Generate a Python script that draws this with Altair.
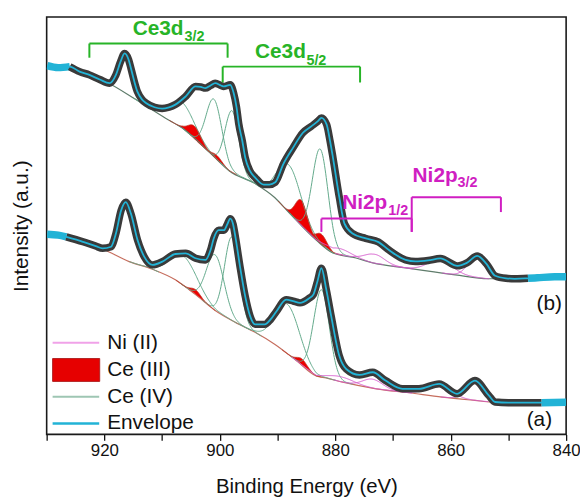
import numpy as np
import pandas as pd
import altair as alt

# ---------------- values ----------------
# Binding energy (eV) and intensity (a.u.; 0 = bottom of frame, 421 = top of frame)

# spectrum (b): measured curve / envelope
env_b_E = [929.9, 928.0, 926.0, 924.3, 922.6, 920.8, 919.1, 918.0, 917.2, 916.5, 915.8, 915.4,
           914.3, 913.5, 912.8, 911.3, 910.0, 908.8, 907.7, 905.9, 904.2, 903.3, 902.5, 901.6,
           900.8, 899.8, 899.3, 898.2, 897.6, 897.1, 896.7, 896.1, 895.6, 894.8, 893.9, 892.4,
           891.4, 890.4, 889.0, 887.3, 885.6, 884.1, 883.0, 882.4, 881.5, 880.9, 880.4, 879.3,
           878.4, 877.0, 874.7, 872.5, 870.7, 867.8, 866.1, 863.9, 861.8, 858.8, 857.2, 855.4,
           853.8, 852.3, 850.4, 848.9, 846.6, 845.0, 842.0, 840.0]
env_b_I = [372, 370, 371, 366, 362.7, 358, 354.3, 362.7, 376, 384.3, 378, 369.3,
           346, 338, 334.3, 330, 328.7, 330, 332.7, 341, 351, 350.5, 349.3, 352,
           354.3, 352, 351, 352.7, 344.3, 330, 312.7, 296, 279.3, 266, 259.3, 252,
           252, 254.3, 272.7, 289.3, 304.3, 311, 316, 319.3, 312.7, 296, 279.3, 239.3,
           212.7, 202.7, 197.7, 194, 186, 176, 174.5, 175.5, 177.5, 170, 173, 180,
           172, 160, 157.5, 157, 157.5, 158, 159, 159]

# spectrum (a): measured curve / envelope
env_a_E = [929.9, 928.0, 926.6, 923.7, 921.5, 920.3, 918.85, 918.0, 917.1, 916.3, 915.4, 914.25,
           913.1, 911.65, 909.95, 907.7, 905.9, 904.2, 902.5, 901.6, 901.05, 900.2, 899.3, 898.7,
           898.2, 897.7, 897.3, 896.5, 895.6, 894.75, 893.9, 892.2, 891.2, 890.2, 888.5, 887.3,
           886.1, 884.6, 883.8, 883.1, 882.4, 881.55, 880.7, 879.3, 878.1, 875.8, 873.5, 871.3,
           868.35, 865.5, 862.0, 858.9, 855.8, 853.4, 852.3, 850.0, 844.25, 840.0]
env_a_I = [202, 201, 199.3, 194.3, 190, 187.7, 189.3, 202.7, 226, 234.3, 222.7, 196,
           179.3, 171, 174.3, 182, 182.7, 177.7, 176, 186, 197.7, 206, 206, 212,
           217.7, 212, 199.3, 169.3, 139.3, 119.3, 111, 111, 116, 124, 136, 134.5,
           132.7, 137, 141, 154, 167.7, 146, 119.3, 79.3, 66, 60, 62.7, 54.3,
           46, 46, 51, 41, 54.3, 39.3, 32.7, 32, 32, 32.5]

# backgrounds
bg_b_E = [922.6, 919.5, 914.6, 909.4, 906.5, 900.8, 898.4, 893.9, 890.5, 887.9, 883.3, 880.4,
          876.4, 873.5, 867.8, 859.2, 853.5, 846.0]
bg_b_I = [362.7, 355, 338, 319, 309, 279, 266, 253, 239, 223, 196, 183,
          178, 173, 168, 161, 157, 157.5]
bg_a_E = [923.7, 920.3, 915.7, 911.7, 907.7, 904.2, 900.8, 897.3, 893.9, 890.5, 886.7, 883.3,
          881.6, 878.7, 872.9, 867.2, 861.5, 855.8, 852.9, 846.0]
bg_a_I = [194.3, 187, 174.3, 166.7, 156, 141, 125, 113, 103, 91, 74.3, 59,
          57, 52.7, 46, 42, 37.7, 34.3, 32.7, 32.3]

# fitted components: centre (eV), height above background (a.u.), FWHM (eV)
ce4_b_center = [916.6, 906.5, 901.0, 897.9, 888.0, 882.6]
ce4_b_height = [40, 26, 58, 62, 48, 95]
ce4_b_fwhm = [2.7, 5.0, 3.2, 2.8, 4.8, 3.2]
ce3_b_center = [904.4, 900.5, 885.9, 882.4]
ce3_b_height = [13, 4, 25, 10]
ce3_b_fwhm = [2.6, 2.0, 2.4, 2.2]
ni_b_center = [879.3, 873.2, 861.8, 855.5]
ni_b_height = [6, 9, 13, 21]
ni_b_fwhm = [4.5, 4.0, 5.0, 3.5]

ce4_a_center = [916.2, 906.3, 900.8, 897.9, 888.3, 882.4]
ce4_a_height = [58, 30, 56, 84, 50, 88]
ce4_a_fwhm = [3.3, 5.5, 3.6, 3.0, 5.0, 3.2]
ce3_a_center = [904.2, 885.8]
ce3_a_height = [5, 6]
ce3_a_fwhm = [2.0, 2.0]
ni_a_center = [879.0, 873.5, 862.0, 855.8]
ni_a_height = [5, 9, 11, 20]
ni_a_fwhm = [5.0, 4.0, 5.0, 3.5]

# raw-data segments drawn in cyan at both ends (outside the fitted window)
cyan_hi = {"b": 926.0, "a": 926.6}
cyan_lo = {"b": 846.6, "a": 844.25}

# bracket annotations
br_names = ["Ce3d3/2", "Ce3d5/2", "Ni2p1/2", "Ni2p3/2"]
br_E1 = [922.6, 899.5, 882.4, 866.75]
br_E2 = [898.65, 875.7, 866.75, 851.3]
br_I = [394.3, 371, 217.7, 239.3]
br_Itick_l = [380, 355, 204.3, 204.3]
br_Itick_r = [380, 355, 204.3, 224.3]
br_col = ["#27b427", "#27b427", "#d01ec2", "#d01ec2"]

lab_main = ["Ce3d", "Ce3d", "Ni2p", "Ni2p"]
lab_sub = ["3/2", "5/2", "1/2", "3/2"]
lab_E = [915.1, 893.9, 878.8, 866.6]
lab_I = [402.7, 379.3, 227.7, 254.3]
sub_E = [906.1, 885.0, 870.8, 858.8]
sub_I = [396.7, 372.7, 221.0, 249.3]

legend_names = ["Ni (II)", "Ce (III)", "Ce (IV)", "Envelope"]

# ---------------- tables ----------------
FONT = "Liberation Sans, Arial, Helvetica, sans-serif"
C_GRAY = "#3a3a3a"
C_CYAN = "#22b3d6"
C_GREEN = "#62a98b"
C_RED = "#ee0000"
C_NI = "#d65ccc"
BG_COL = {"b": "#5f7c6b", "a": "#c66e5e"}


def comp_rows(spec, kind, centers, heights, fwhms, bgE, bgI):
    xp = np.array(bgE[::-1], dtype=float)
    fp = np.array(bgI[::-1], dtype=float)
    rows = []
    for k, (c, h, w) in enumerate(zip(centers, heights, fwhms)):
        E = np.round(np.arange(c - 1.7 * w, c + 1.7 * w + 1e-9, 0.1), 3)
        base = np.interp(E, xp, fp)
        top = base + h * np.exp(-4 * np.log(2) * ((E - c) / w) ** 2)
        for e, b, t in zip(E, base, top):
            rows.append({"E": float(e), "base": float(b), "top": float(t), "key": f"{spec}-{kind}-{k}"})
    return rows


ce4 = pd.DataFrame(comp_rows("b", "ce4", ce4_b_center, ce4_b_height, ce4_b_fwhm, bg_b_E, bg_b_I)
                   + comp_rows("a", "ce4", ce4_a_center, ce4_a_height, ce4_a_fwhm, bg_a_E, bg_a_I))
ce3 = pd.DataFrame(comp_rows("b", "ce3", ce3_b_center, ce3_b_height, ce3_b_fwhm, bg_b_E, bg_b_I)
                   + comp_rows("a", "ce3", ce3_a_center, ce3_a_height, ce3_a_fwhm, bg_a_E, bg_a_I))
ni = pd.DataFrame(comp_rows("b", "ni", ni_b_center, ni_b_height, ni_b_fwhm, bg_b_E, bg_b_I)
                  + comp_rows("a", "ni", ni_a_center, ni_a_height, ni_a_fwhm, bg_a_E, bg_a_I))

bg = pd.concat([pd.DataFrame({"E": bg_b_E, "I": bg_b_I, "spec": "b", "col": BG_COL["b"]}),
                pd.DataFrame({"E": bg_a_E, "I": bg_a_I, "spec": "a", "col": BG_COL["a"]})])

env = pd.concat([pd.DataFrame({"E": env_b_E, "I": env_b_I, "spec": "b"}),
                 pd.DataFrame({"E": env_a_E, "I": env_a_I, "spec": "a"})])

raw_rows = []
for spec, Es, Is in [("b", env_b_E, env_b_I), ("a", env_a_E, env_a_I)]:
    for e, i in zip(Es, Is):
        if e >= cyan_hi[spec]:
            raw_rows.append({"E": e, "I": i, "seg": f"{spec}-L", "col": C_CYAN})
        if e <= cyan_lo[spec]:
            raw_rows.append({"E": e, "I": i, "seg": f"{spec}-R", "col": C_CYAN})
        if cyan_lo[spec] <= e <= cyan_hi[spec]:
            raw_rows.append({"E": e, "I": i, "seg": f"{spec}-M", "col": C_GRAY})
raw = pd.DataFrame(raw_rows)

br_h = pd.DataFrame({"E": br_E1, "E2": br_E2, "I": br_I, "col": br_col, "name": br_names})
br_v = pd.DataFrame({"E": br_E1 + br_E2, "I": br_I + br_I,
                     "I2": br_Itick_l + br_Itick_r, "col": br_col + br_col})
labs = pd.DataFrame({"E": lab_E, "I": lab_I, "t": lab_main, "col": br_col})
subs = pd.DataFrame({"E": sub_E, "I": sub_I, "t": lab_sub, "col": br_col})

# ---------------- chart ----------------
xs = alt.Scale(domain=[840, 930], reverse=True, nice=False, zero=False)
ys = alt.Scale(domain=[0, 421], nice=False, zero=False)

x_axis = alt.Axis(values=[930, 920, 910, 900, 890, 880, 870, 860, 850, 840],
                  labelExpr="datum.value % 20 === 0 ? datum.label : ''",
                  title="Binding Energy (eV)", grid=False, domain=False,
                  tickSize=6, tickWidth=1.3, tickColor="#111", labelFontSize=17,
                  labelColor="#111", labelFont=FONT, labelPadding=2, labelFlush=False,
                  labelOverlap=False, titleFont=FONT, titleFontSize=20.5,
                  titleFontWeight="normal", titleColor="#111", titlePadding=19)
y_axis = alt.Axis(title="Intensity (a.u.)", labels=False, ticks=False, grid=False, domain=False,
                  titleFont=FONT, titleFontSize=21, titleFontWeight="normal",
                  titleColor="#111", titlePadding=15.5)


def X(field="E"):
    return alt.X(f"{field}:Q", scale=xs, axis=x_axis)


def Y(field="I"):
    return alt.Y(f"{field}:Q", scale=ys, axis=y_axis, stack=None)


red = alt.Chart(ce3).mark_area(color=C_RED, opacity=1).encode(
    x=X(), y=Y("top"), y2="base:Q", detail="key:N")

bgline = alt.Chart(bg).mark_line(strokeWidth=1.2, interpolate="monotone").encode(
    x=X(), y=Y(), color=alt.Color("col:N", scale=None), detail="spec:N")

green = alt.Chart(ce4).mark_line(strokeWidth=1, color=C_GREEN).encode(
    x=X(), y=Y("top"), detail="key:N")
redline = alt.Chart(ce3).mark_line(strokeWidth=0.8, color="#b83a2a").encode(
    x=X(), y=Y("top"), detail="key:N")
niline = alt.Chart(ni).mark_line(strokeWidth=1, color=C_NI).encode(
    x=X(), y=Y("top"), detail="key:N")

rawband = alt.Chart(raw).mark_line(strokeWidth=7.5, interpolate="monotone", clip=True,
                                   strokeJoin="round").encode(
    x=X(), y=Y(), color=alt.Color("col:N", scale=None), detail="seg:N")

envline = alt.Chart(env).mark_line(strokeWidth=1.8, color=C_CYAN, interpolate="monotone",
                                   clip=True).encode(
    x=X(), y=Y(), detail="spec:N")

br1 = alt.Chart(br_h).mark_rule(strokeWidth=2).encode(
    x=X(), x2="E2:Q", y=Y(), color=alt.Color("col:N", scale=None))
br2 = alt.Chart(br_v).mark_rule(strokeWidth=2).encode(
    x=X(), y=Y(), y2="I2:Q", color=alt.Color("col:N", scale=None))

t_main = alt.Chart(labs).mark_text(font=FONT, fontSize=21, fontWeight="bold", align="left",
                                   baseline="alphabetic").encode(
    x=X(), y=Y(), text="t:N", color=alt.Color("col:N", scale=None))
t_sub = alt.Chart(subs).mark_text(font=FONT, fontSize=14.5, fontWeight="bold", align="left",
                                  baseline="alphabetic").encode(
    x=X(), y=Y(), text="t:N", color=alt.Color("col:N", scale=None))

# panel tags
tag_df = pd.DataFrame({"t": ["(b)", "(a)"], "px": [507, 497], "py": [289, 407]})
tags = alt.Chart(tag_df).mark_text(font=FONT, fontSize=21, color="#111", align="center",
                                   baseline="middle").encode(
    x=alt.X("px:Q", scale=None), y=alt.Y("py:Q", scale=None), text="t:N")

# legend drawn in place (bottom-left inside the frame)
leg_lines = pd.DataFrame({"name": ["Ni (II)", "Ce (IV)", "Envelope"],
                          "x1": [6, 6, 6], "x2": [53, 53, 53], "y": [328.5, 383, 410],
                          "col": ["#f0a2e8", "#9ec6b3", C_CYAN], "w": [2, 2, 2.6]})
leg_l = alt.Chart(leg_lines).mark_rule().encode(
    x=alt.X("x1:Q", scale=None), x2="x2:Q", y=alt.Y("y:Q", scale=None),
    color=alt.Color("col:N", scale=None), strokeWidth=alt.StrokeWidth("w:Q", scale=None))
leg_rect_df = pd.DataFrame({"name": ["Ce (III)"], "x1": [6], "x2": [53.5], "y1": [344.5], "y2": [367.5]})
leg_r = alt.Chart(leg_rect_df).mark_rect(color="#e60000", stroke="#b02020", strokeWidth=1).encode(
    x=alt.X("x1:Q", scale=None), x2="x2:Q", y=alt.Y("y1:Q", scale=None), y2="y2:Q")
leg_txt_df = pd.DataFrame({"t": legend_names, "x": [61, 61, 61, 61], "y": [329, 356.5, 383.5, 409.5]})
leg_t = alt.Chart(leg_txt_df).mark_text(font=FONT, fontSize=21, color="#111", align="left",
                                        baseline="middle").encode(
    x=alt.X("x:Q", scale=None), y=alt.Y("y:Q", scale=None), text="t:N")

chart = alt.layer(red, bgline, green, redline, niline, rawband, envline,
                  br1, br2, t_main, t_sub, tags, leg_l, leg_r, leg_t).properties(
    width=524, height=421,
    autosize=alt.AutoSizeParams(type="none"),
    padding={"left": 39, "top": 7, "right": 14, "bottom": 62},
    background="white",
).configure_view(stroke="#1a1a1a", strokeWidth=1.6)

chart.save("out.html", embed_options={"renderer": "svg", "actions": False})
